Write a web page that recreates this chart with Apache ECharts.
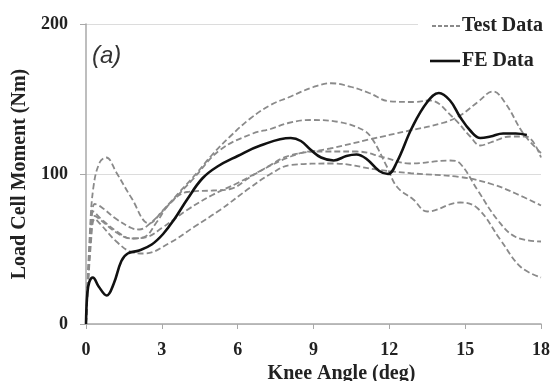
<!DOCTYPE html>
<html><head><meta charset="utf-8">
<script src="https://cdn.jsdelivr.net/npm/echarts@6/dist/echarts.min.js"></script>
<style>html,body{margin:0;padding:0;background:#fff}#c{width:551px;height:381px}</style>
</head><body><div id="c"></div>
<script>
const xTicks = [0, 3, 6, 9, 12, 15, 18];
const yTicks = [0, 100, 200];
const legendNames = ['Test Data', 'FE Data'];

const feData = [[0,0],[0.05,20],[0.13,28],[0.27,31],[0.5,25],[0.82,19],[1.1,27],[1.4,42],[1.65,47],[2.1,49],[2.6,53],[3.05,60],[3.5,70],[4,83],[4.6,97],[5.2,105],[6,112],[6.9,119],[8.1,124],[8.5,122],[8.9,116],[9.3,111],[9.8,109],[10.3,112],[10.7,113],[11.1,110],[11.6,102],[11.95,100],[12.3,108],[12.9,131],[13.5,148],[13.96,154],[14.4,149],[14.8,138],[15.2,129],[15.6,124],[16,125],[16.5,127],[17,127],[17.44,126]];

const test1 = [[0,0],[0.15,60],[0.3,92],[0.55,108],[0.8,111],[1.2,101],[1.8,84],[2.5,67],[3.05,76],[3.7,88],[4.4,101],[5,113],[5.7,125],[6.5,137],[7.3,146],[8,151],[9,158],[9.7,160.5],[10.5,158],[11.2,154],[12,148.5],[13,148],[13.6,149],[14.5,138],[15.2,125],[15.6,119],[16,121],[16.8,125],[17.4,125],[18,111]];
const test2 = [[0,0],[0.15,50],[0.3,75],[0.6,70],[1.2,62],[1.8,57],[2.3,58],[2.8,68],[3.3,80],[4,88],[5,89],[5.7,90],[6.5,98],[7.3,106],[8,112],[9.65,117],[11.2,123],[12.8,129],[14.1,134],[14.8,139],[15.5,148],[16.1,155],[16.6,147],[17.3,127],[18,114]];
const test3 = [[0,0],[0.2,60],[0.35,72],[0.6,69],[1.2,61],[1.8,57],[2.4,58],[3,64],[4,76],[5,86],[6,94],[7,103],[8,111],[8.9,115],[10.7,115],[11.8,111],[12.8,107],[14.4,109],[14.8,107],[15.5,89],[16.3,69],[17,58],[18,55]];
const test4 = [[0,0],[0.2,55],[0.35,70],[0.6,66],[1.2,55],[1.8,48],[2.3,47],[3.3,54],[4.3,65],[5.3,76],[6.5,91],[7.3,100],[8.1,106],[9.8,107],[11.5,103],[12.85,100.5],[14.8,98],[16.1,93],[17,87],[18,79]];
const test5 = [[0,0],[0.2,65],[0.35,80],[0.6,78],[1.2,70],[1.8,64],[2.1,63],[2.6,68],[3.3,80],[4.2,96],[5.3,116],[6.6,127],[7.3,130],[8,134],[8.9,136],[10,134.7],[11,129],[11.35,122.7],[11.9,105],[12.3,91.5],[12.95,83],[13.5,75],[14.8,81],[15.5,77],[16.4,56],[17.2,38],[18,31]];
const testCurves = [test1, test2, test3, test4, test5];

const serif = '"Liberation Serif","Times New Roman",serif';
const chart = echarts.init(document.getElementById('c'));
const dashColor = '#8a8a8a';
const dashStyle = {color:dashColor, width:1.8, type:[6,3]};
const series = testCurves.map(d => ({
  name: legendNames[0], type:'line', data:d, smooth:0.4,
  symbol:'none', lineStyle:dashStyle, itemStyle:{color:dashColor}, z:2
}));
series.push({name: legendNames[1], type:'line', data:feData, smooth:0.4,
  symbol:'none', lineStyle:{color:'#111', width:2.6}, itemStyle:{color:'#111'}, z:3});

chart.setOption({
  animation:false,
  backgroundColor:'#fff',
  grid:{left:86, right:10, top:24, bottom:57, containLabel:false, outerBoundsMode:'none'},
  xAxis:{type:'value', min:0, max:18, interval:3,
    name:'Knee Angle (deg)', nameLocation:'middle', nameGap:38,
    nameTextStyle:{fontFamily:serif, fontWeight:'bold', fontSize:20, color:'#222', padding:[0,0,0,56]},
    axisLine:{lineStyle:{color:'#a8a8a8', width:1.5}},
    axisTick:{show:true, length:5, lineStyle:{color:'#a8a8a8'}},
    splitLine:{show:false},
    axisLabel:{fontFamily:serif, fontWeight:'bold', fontSize:18, color:'#222', margin:17,
      formatter: v => xTicks.includes(v) ? String(v) : ''}
  },
  yAxis:{type:'value', min:0, max:200, interval:100,
    name:'Load Cell Moment (Nm)', nameLocation:'middle', nameGap:56,
    nameTextStyle:{fontFamily:serif, fontWeight:'bold', fontSize:20, color:'#222'},
    axisLine:{show:true, lineStyle:{color:'#a8a8a8', width:1.5}},
    axisTick:{show:true, length:6, lineStyle:{color:'#a8a8a8'}},
    splitLine:{show:true, lineStyle:{color:'#dcdcdc', width:1.2}},
    axisLabel:{fontFamily:serif, fontWeight:'bold', fontSize:18, color:'#222', margin:18,
      formatter: v => yTicks.includes(v) ? String(v) : ''}
  },
  legend:{show:false, data:legendNames},
  graphic:[
    {type:'rect', shape:{x:418, y:10, width:133, height:62}, style:{fill:'#fff'}, z:5},
    {type:'line', shape:{x1:432, y1:26, x2:460, y2:26}, style:{stroke:dashColor, lineWidth:2, lineDash:[4,2]}, z:6},
    {type:'text', x:462, y:26, style:{text:legendNames[0], font:'bold 20px ' + serif, fill:'#222', verticalAlign:'middle'}, z:6},
    {type:'line', shape:{x1:430, y1:61, x2:460, y2:61}, style:{stroke:'#111', lineWidth:2.6}, z:6},
    {type:'text', x:462, y:61, style:{text:legendNames[1], font:'bold 20px ' + serif, fill:'#222', verticalAlign:'middle'}, z:6},
    {type:'text', x:92, y:56, style:{text:'(a)', font:'italic 24px "Liberation Sans", Arial, sans-serif', fill:'#333', verticalAlign:'middle'}, z:6}
  ],
  series: series
});
</script></body></html>
